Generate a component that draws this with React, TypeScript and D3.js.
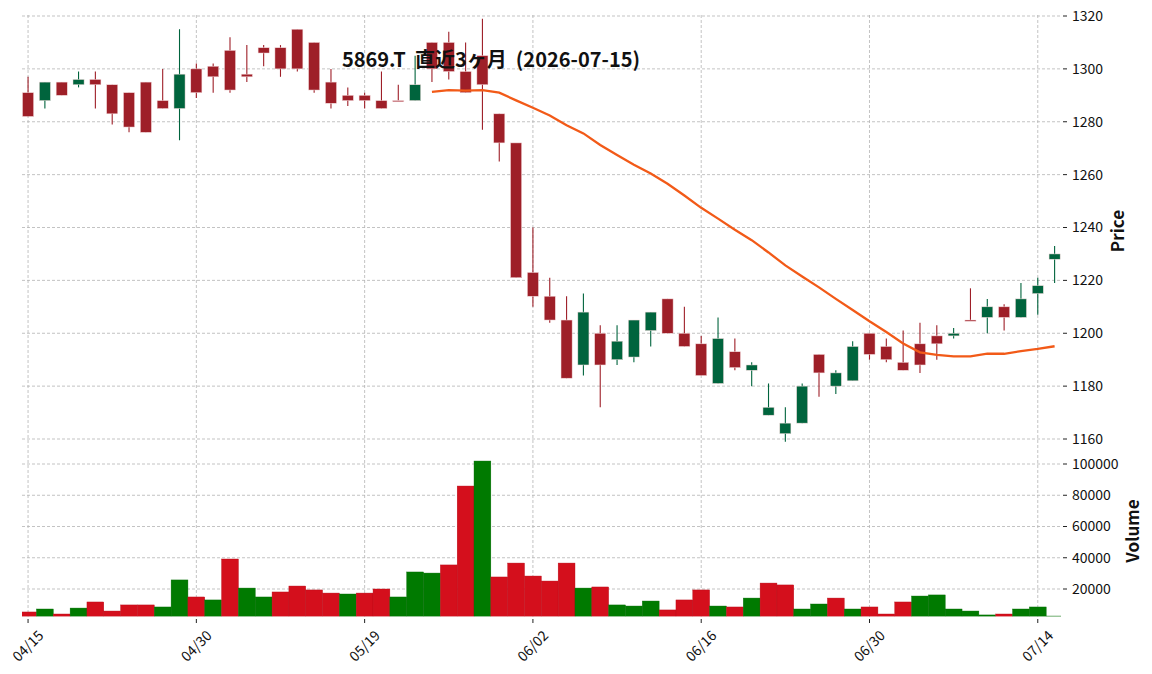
import React from 'react'
import * as d3 from 'd3'

const dates = [
  '04/15', '04/16', '04/17', '04/20', '04/21', '04/22', '04/23', '04/24', '04/27', '04/28',
  '04/30', '05/01', '05/07', '05/08', '05/11', '05/12', '05/13', '05/14', '05/15', '05/18',
  '05/19', '05/20', '05/21', '05/22', '05/25', '05/26', '05/27', '05/28', '05/29', '06/01',
  '06/02', '06/03', '06/04', '06/05', '06/08', '06/09', '06/10', '06/11', '06/12', '06/15',
  '06/16', '06/17', '06/18', '06/19', '06/22', '06/23', '06/24', '06/25', '06/26', '06/29',
  '06/30', '07/01', '07/02', '07/03', '07/06', '07/07', '07/08', '07/09', '07/10', '07/13',
  '07/14', '07/15',
]

const opens = [
  1291, 1288, 1295, 1294, 1296, 1294, 1291, 1295, 1288, 1285,
  1300, 1301, 1307, 1298, 1308, 1308, 1315, 1310, 1295, 1290,
  1290, 1288, 1288, 1288, 1310, 1310, 1299, 1305, 1283, 1272,
  1223, 1214, 1205, 1188, 1200, 1190, 1191, 1201, 1213, 1200,
  1196, 1181, 1193, 1186, 1169, 1162, 1166, 1192, 1180, 1182,
  1200, 1195, 1189, 1196, 1199, 1199, 1205, 1206, 1210, 1206,
  1215, 1228,
]

const highs = [
  1297, 1295, 1295, 1299, 1299, 1294, 1291, 1295, 1300, 1315,
  1302, 1302, 1312, 1309, 1309, 1309, 1315, 1310, 1300, 1293,
  1291, 1299, 1294, 1305, 1310, 1314, 1310, 1319, 1283, 1272,
  1240, 1221, 1214, 1215, 1203, 1203, 1205, 1208, 1213, 1210,
  1199, 1206, 1198, 1189, 1181, 1172, 1181, 1192, 1186, 1197,
  1200, 1198, 1201, 1204, 1203, 1202, 1217, 1213, 1211, 1219,
  1221, 1233,
]

const lows = [
  1282, 1285, 1290, 1293, 1285, 1279, 1276, 1276, 1285, 1273,
  1289, 1291, 1291, 1295, 1301, 1297, 1299, 1291, 1285, 1286,
  1285, 1285, 1288, 1288, 1295, 1296, 1291, 1277, 1265, 1221,
  1210, 1204, 1183, 1184, 1172, 1188, 1189, 1195, 1200, 1195,
  1184, 1181, 1186, 1180, 1169, 1159, 1166, 1176, 1177, 1182,
  1190, 1189, 1186, 1185, 1190, 1198, 1205, 1200, 1201, 1206,
  1207, 1219,
]

const closes = [
  1282, 1295, 1290, 1296, 1294, 1283, 1278, 1276, 1285, 1298,
  1291, 1297, 1292, 1297, 1306, 1300, 1300, 1292, 1287, 1288,
  1288, 1285, 1288, 1294, 1300, 1299, 1291, 1294, 1272, 1221,
  1214, 1205, 1183, 1208, 1188, 1197, 1205, 1208, 1200, 1195,
  1184, 1198, 1187, 1188, 1172, 1166, 1180, 1185, 1185, 1195,
  1192, 1190, 1186, 1188, 1196, 1200, 1205, 1210, 1206, 1213,
  1218, 1230,
]

const volumes = [
  5300, 7200, 4000, 7800, 11700, 5900, 9800, 9800, 8500, 25800,
  14900, 13000, 39200, 20600, 14900, 18100, 21900, 19400, 17400, 16800,
  17400, 20000, 14900, 30900, 30200, 35400, 85900, 101900, 27700, 36600,
  28300, 25100, 36600, 20600, 21300, 9800, 9100, 12300, 6600, 13000,
  19400, 9100, 8500, 14200, 23800, 22600, 7200, 10400, 14200, 7200,
  8500, 4000, 11700, 15500, 16200, 7200, 5900, 3400, 4000, 7200,
  8500, 2700,
]

const priceTicks = [1160, 1180, 1200, 1220, 1240, 1260, 1280, 1300, 1320]
const volumeTicks = [20000, 40000, 60000, 80000, 100000]
const title = '5869.T  直近3ヶ月  (2026-07-15)'
const maWindow = 25

const font = '"Noto Sans CJK JP", "Noto Sans", sans-serif'
const candleUp = '#00643d'
const candleDown = '#9e1f28'
const volUp = '#007a00'
const volDown = '#d40f1c'
const gridColor = '#b4b4b4'

export default function App() {
  const left = 22
  const right = 1061
  const priceTop = 15
  const volBottom = 616.5

  const x = d3.scaleLinear().domain([-0.36, 61.38]).range([left, right])
  const step = x(1) - x(0)
  const y = d3.scaleLinear().domain([1160, 1320]).range([439, 16])
  const yv = d3.scaleLinear().domain([2400, 100000]).range([volBottom, 464])

  // 25-day moving average of the closes
  const ma = closes.map((_, i) =>
    i < maWindow - 1 ? null : d3.mean(closes.slice(i - maWindow + 1, i + 1)) as number
  )
  const maLine = d3
    .line<number | null>()
    .defined((d) => d !== null)
    .x((_, i) => x(i))
    .y((d) => y(d as number))

  const xTicks = d3.range(0, dates.length, 10)

  return (
    <svg width={1152} height={674} style={{ position: 'absolute', left: 0, top: 0, background: '#fff' }}>
      <defs>
        <clipPath id="plot">
          <rect x={left} y={0} width={right - left} height={volBottom} />
        </clipPath>
      </defs>

      {/* grid */}
      {xTicks.map((i) => (
        <line key={'vg' + i} x1={x(i)} x2={x(i)} y1={priceTop} y2={volBottom}
          stroke={gridColor} strokeWidth={0.8} strokeDasharray="3,2" />
      ))}
      {priceTicks.map((t) => (
        <line key={'pg' + t} x1={left} x2={right} y1={y(t)} y2={y(t)}
          stroke={gridColor} strokeWidth={0.8} strokeDasharray="3,2" />
      ))}
      {volumeTicks.map((t) => (
        <line key={'vgl' + t} x1={left} x2={right} y1={yv(t)} y2={yv(t)}
          stroke={gridColor} strokeWidth={0.8} strokeDasharray="3,2" />
      ))}

      <g clipPath="url(#plot)">
        {/* volume */}
        {volumes.map((v, i) => {
          const up = i === 0 ? closes[i] > opens[i] : closes[i] > closes[i - 1]
          return (
            <rect key={'v' + i} x={x(i) - step / 2} width={step} y={yv(v)} height={volBottom - yv(v)}
              fill={up ? volUp : volDown} stroke={up ? '#006a00' : '#b80c18'} strokeWidth={0.4} />
          )
        })}

        {/* candles */}
        {closes.map((c, i) => {
          const o = opens[i]
          const col = c > o ? candleUp : candleDown
          const top = y(Math.max(o, c))
          const h = Math.max(1.2, y(Math.min(o, c)) - top)
          const bw = step * 0.66
          return (
            <g key={'c' + i}>
              <line x1={x(i)} x2={x(i)} y1={y(highs[i])} y2={y(lows[i])} stroke={col} strokeWidth={1.1} />
              <rect x={x(i) - bw / 2} width={bw} y={top} height={h} fill={col}
                stroke="#f3d9db" strokeWidth={0.5} />
            </g>
          )
        })}

        <path d={maLine(ma) || ''} fill="none" stroke="#f25a18" strokeWidth={2.3} />
      </g>

      {/* right axes */}
      {priceTicks.map((t) => (
        <g key={'pt' + t} transform={`translate(0,${y(t)})`}>
          <line x1={1063} x2={1067} stroke="#222" strokeWidth={1} />
          <text x={1072} dy="0.35em" fontSize={14} fontFamily={font} fill="#111">{t}</text>
        </g>
      ))}
      {volumeTicks.map((t) => (
        <g key={'vt' + t} transform={`translate(0,${yv(t)})`}>
          <line x1={1063} x2={1067} stroke="#222" strokeWidth={1} />
          <text x={1072} dy="0.35em" fontSize={14} fontFamily={font} fill="#111">{t}</text>
        </g>
      ))}
      <text transform="translate(1118,231) rotate(-90)" textAnchor="middle" dy="0.35em"
        fontSize={17} fontWeight="bold" fontFamily={font} fill="#111">Price</text>
      <text transform="translate(1133,531) rotate(-90)" textAnchor="middle" dy="0.35em"
        fontSize={17} fontWeight="bold" fontFamily={font} fill="#111">Volume</text>

      {/* bottom axis */}
      {xTicks.map((i) => (
        <g key={'xt' + i}>
          <line x1={x(i)} x2={x(i)} y1={619} y2={623} stroke="#222" strokeWidth={1} />
          <text transform={`translate(${x(i)},646) rotate(-45)`} textAnchor="middle" dy="0.35em"
            fontSize={14} fontFamily={font} fill="#111">{dates[i]}</text>
        </g>
      ))}

      <text x={491} y={67} textAnchor="middle" fontSize={20} fontWeight="bold" fontFamily={font}
        fill="#111" style={{ whiteSpace: 'pre' }}>{title}</text>
    </svg>
  )
}
